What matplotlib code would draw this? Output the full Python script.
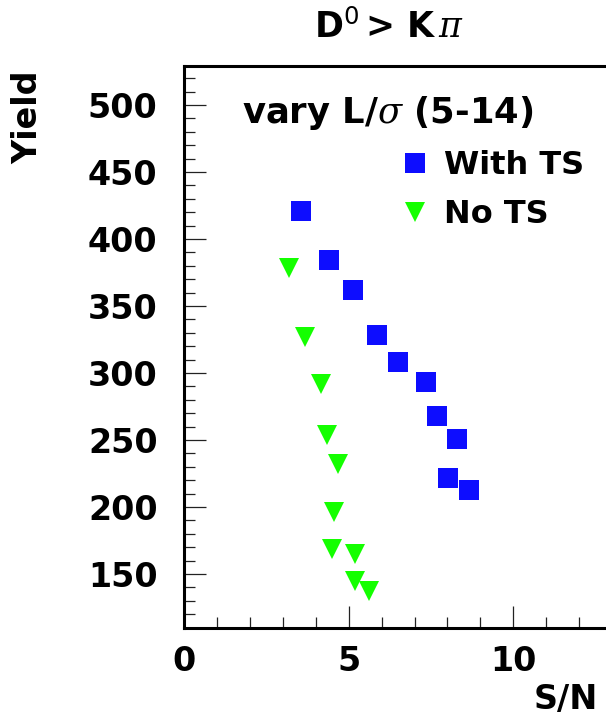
import numpy as np
import matplotlib
matplotlib.use("Agg")
import matplotlib.pyplot as plt
from matplotlib.ticker import MultipleLocator

plt.rcParams['font.family'] = 'DejaVu Sans'
plt.rcParams['mathtext.fontset'] = 'custom'
plt.rcParams['mathtext.rm'] = 'DejaVu Sans'
plt.rcParams['mathtext.it'] = 'DejaVu Serif:italic'

# datos
sn_ts = [3.54, 4.41, 5.14, 5.85, 6.51, 7.35, 7.69, 8.28, 8.03, 8.65]
yield_ts = [421, 384, 362, 328, 308, 293, 268, 251, 222, 213]
sn_nots = [3.19, 3.67, 4.15, 4.35, 4.69, 4.56, 4.50, 5.18, 5.18, 5.61]
yield_nots = [378, 327, 292, 254, 232, 196, 169, 165, 145, 137]

W, H = 606, 723
fig = plt.figure(figsize=(W / 100, H / 100), dpi=100)

# ejes en pixeles
x0, ytop, ybot = 184, 66, 628
px_unidad = 32.93
ax = fig.add_axes([x0 / W, (H - ybot) / H, 13 * px_unidad / W, (ybot - ytop) / H])

ax.plot(sn_ts, yield_ts, 's', color='#0d0dff', ms=13.7, mew=0, label='With TS')
ax.plot(sn_nots, yield_nots, 'v', color='#14ff00', ms=14, mew=0, label='No TS')

ax.set_xlim(0, 13)
ax.set_ylim(109.7, 529.1)
ax.xaxis.set_major_locator(MultipleLocator(5))
ax.xaxis.set_minor_locator(MultipleLocator(1))
ax.yaxis.set_major_locator(MultipleLocator(50))
ax.yaxis.set_minor_locator(MultipleLocator(10))
ax.tick_params(which='both', direction='in', width=0.9, color='#222222',
               top=False, right=False)
ax.tick_params(which='major', length=16)
ax.tick_params(which='minor', length=8)
ax.tick_params(axis='y', which='major', pad=19, labelsize=24)
ax.tick_params(axis='x', which='major', pad=12, labelsize=24)
for lab in ax.get_xticklabels() + ax.get_yticklabels():
    lab.set_fontweight('bold')
for s in ax.spines.values():
    s.set_linewidth(2.2)
ax.spines['right'].set_visible(False)

fig.text(389 / W, 1 - 27 / H, r"D$^{\mathrm{0}}\,$> K$\,\pi$", fontsize=25,
         fontweight='bold', ha='center', va='center')
fig.text(28 / W, 1 - 117 / H, "Yield", fontsize=24, fontweight='bold',
         rotation=90, ha='center', va='center')
fig.text(566 / W, 1 - 700 / H, "S/N", fontsize=24, fontweight='bold',
         ha='center', va='center')
fig.text(242 / W, 1 - 113 / H, r"vary L/$\sigma$ (5-14)", fontsize=25.5,
         fontweight='bold', ha='left', va='center')

ax.legend(loc='center left', bbox_to_anchor=(399 / W, 1 - 190 / H),
          bbox_transform=fig.transFigure, frameon=False,
          prop={'size': 23, 'weight': 'bold'},
          borderpad=0, borderaxespad=0, handlelength=1.0, handletextpad=0.4,
          labelspacing=0.55, numpoints=1)

fig.savefig("out.png", dpi=100)
